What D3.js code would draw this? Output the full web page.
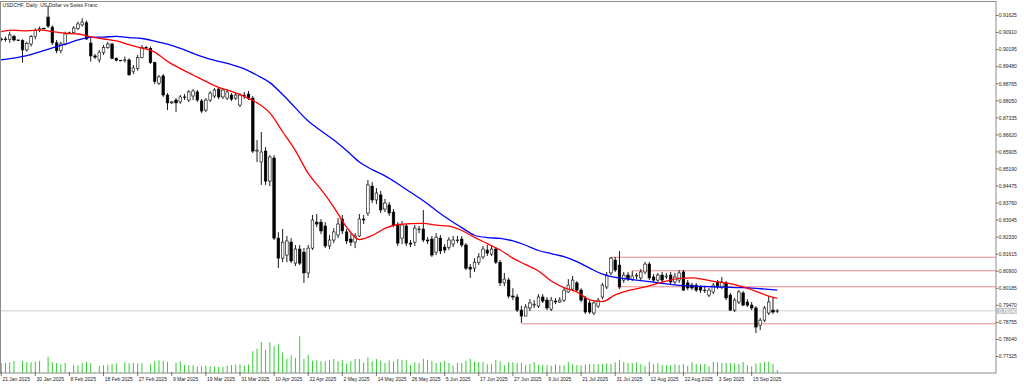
<!DOCTYPE html>
<html><head><meta charset="utf-8">
<script src="https://cdn.jsdelivr.net/npm/d3@7"></script>
<style>html,body{margin:0;padding:0;background:#fff;overflow:hidden}</style>
</head><body><svg id="c" width="1024" height="385"></svg>
<script>
const title = "USDCHF, Daily:  US Dollar vs Swiss Franc";
const dateLabels = ["21 Jan 2025","30 Jan 2025","8 Feb 2025","18 Feb 2025","27 Feb 2025","9 Mar 2025","19 Mar 2025","31 Mar 2025","10 Apr 2025","22 Apr 2025","2 May 2025","14 May 2025","26 May 2025","5 Jun 2025","17 Jun 2025","27 Jun 2025","9 Jul 2025","21 Jul 2025","31 Jul 2025","12 Aug 2025","22 Aug 2025","3 Sep 2025","15 Sep 2025"];
const dateLabelBar = [0,8,16,24,32,40,48,56,64,72,80,88,96,104,112,120,128,136,144,152,160,168,176];
const priceTicks = [0.91625,0.90910,0.90195,0.89480,0.88765,0.88050,0.87335,0.86620,0.85905,0.85190,0.84475,0.83760,0.83045,0.82330,0.81615,0.80900,0.80185,0.79470,0.78755,0.78040,0.77325];

const open = [0.9064,0.9061,0.9063,0.9074,0.9060,0.9057,0.9018,0.9043,0.9074,0.9099,
0.9107,0.9156,0.9114,0.9048,0.9015,0.9043,0.9088,0.9090,0.9109,0.9123,
0.9132,0.9047,0.8993,0.8976,0.9007,0.9029,0.9043,0.8983,0.8975,0.8973,
0.8976,0.8927,0.8941,0.8987,0.9028,0.9025,0.8965,0.8879,0.8909,0.8829,
0.8796,0.8808,0.8800,0.8821,0.8808,0.8825,0.8842,0.8804,0.8766,0.8808,
0.8825,0.8854,0.8821,0.8816,0.8829,0.8816,0.8787,0.8829,0.8833,0.8816,
0.8594,0.8548,0.8594,0.8468,0.8565,0.8229,0.8145,0.8158,0.8212,0.8124,
0.8183,0.8170,0.8083,0.8187,0.8296,0.8296,0.8280,0.8196,0.8221,0.8242,
0.8309,0.8255,0.8225,0.8212,0.8238,0.8309,0.8334,0.8447,0.8389,0.8410,
0.8351,0.8368,0.8338,0.8284,0.8229,0.8280,0.8208,0.8212,0.8267,0.8267,
0.8221,0.8225,0.8170,0.8229,0.8191,0.8191,0.8204,0.8221,0.8225,0.8200,
0.8107,0.8103,0.8128,0.8150,0.8179,0.8162,0.8183,0.8128,0.8041,0.8053,
0.7986,0.7982,0.7927,0.7902,0.7936,0.7948,0.7944,0.7982,0.7969,0.7931,
0.7965,0.7961,0.7969,0.8003,0.8015,0.8041,0.8011,0.7978,0.7957,0.7915,
0.7944,0.7982,0.8024,0.8083,0.8137,0.8116,0.8053,0.8074,0.8057,0.8070,
0.8062,0.8087,0.8120,0.8066,0.8053,0.8074,0.8066,0.8074,0.8045,0.8053,
0.8087,0.8041,0.8032,0.8032,0.8024,0.8011,0.7990,0.8003,0.8045,0.8024,
0.8041,0.7990,0.7927,0.7961,0.7999,0.7961,0.7948,0.7936,0.7864,0.7885,
0.7915,0.7927,0.7923];
const high = [0.9071,0.9074,0.9095,0.9081,0.9061,0.9063,0.9053,0.9081,0.9109,0.9116,
0.9111,0.9204,0.9121,0.9060,0.9053,0.9095,0.9095,0.9118,0.9137,0.9151,
0.9141,0.9067,0.9001,0.9018,0.9039,0.9051,0.9048,0.8987,0.8976,0.8990,
0.8983,0.8955,0.8997,0.9039,0.9035,0.9032,0.8969,0.8913,0.8917,0.8837,
0.8804,0.8816,0.8829,0.8833,0.8850,0.8854,0.8850,0.8812,0.8816,0.8846,
0.8858,0.8863,0.8858,0.8854,0.8837,0.8837,0.8837,0.8842,0.8846,0.8825,
0.8640,0.8674,0.8611,0.8577,0.8577,0.8254,0.8267,0.8238,0.8229,0.8200,
0.8200,0.8187,0.8200,0.8326,0.8330,0.8309,0.8296,0.8242,0.8271,0.8313,
0.8326,0.8267,0.8246,0.8250,0.8330,0.8326,0.8473,0.8464,0.8439,0.8427,
0.8393,0.8380,0.8351,0.8296,0.8301,0.8288,0.8221,0.8284,0.8280,0.8347,
0.8233,0.8238,0.8250,0.8242,0.8204,0.8233,0.8238,0.8238,0.8238,0.8208,
0.8120,0.8145,0.8166,0.8196,0.8200,0.8196,0.8191,0.8137,0.8083,0.8062,
0.8019,0.7994,0.7944,0.7952,0.7973,0.7969,0.7994,0.7994,0.7982,0.7982,
0.7977,0.7982,0.8024,0.8057,0.8070,0.8049,0.8019,0.7986,0.7969,0.7969,
0.7978,0.8041,0.8087,0.8150,0.8150,0.8175,0.8087,0.8087,0.8091,0.8083,
0.8099,0.8129,0.8129,0.8078,0.8083,0.8087,0.8083,0.8087,0.8083,0.8095,
0.8095,0.8053,0.8041,0.8041,0.8032,0.8024,0.8020,0.8041,0.8053,0.8066,
0.8049,0.7999,0.7978,0.8011,0.8007,0.7973,0.7961,0.7944,0.7894,0.7944,
0.7986,0.7978,0.7931];
const low = [0.9054,0.9053,0.9048,0.9053,0.9056,0.8965,0.9011,0.9032,0.9063,0.9093,
0.9104,0.9110,0.9039,0.9004,0.9004,0.9037,0.9085,0.9088,0.9102,0.9116,
0.9060,0.8969,0.8980,0.8965,0.8997,0.9023,0.8979,0.8970,0.8970,0.8965,
0.8909,0.8917,0.8931,0.8983,0.9022,0.8959,0.8875,0.8871,0.8821,0.8766,
0.8792,0.8758,0.8792,0.8808,0.8800,0.8808,0.8800,0.8754,0.8758,0.8800,
0.8816,0.8812,0.8812,0.8808,0.8804,0.8808,0.8779,0.8812,0.8808,0.8586,
0.8548,0.8452,0.8452,0.8447,0.8221,0.8103,0.8128,0.8128,0.8124,0.8112,
0.8116,0.8041,0.8062,0.8179,0.8275,0.8246,0.8187,0.8183,0.8208,0.8229,
0.8246,0.8204,0.8196,0.8187,0.8234,0.8288,0.8322,0.8376,0.8372,0.8334,
0.8338,0.8322,0.8275,0.8196,0.8204,0.8196,0.8191,0.8196,0.8250,0.8212,
0.8204,0.8150,0.8158,0.8162,0.8166,0.8179,0.8191,0.8208,0.8191,0.8095,
0.8062,0.8087,0.8116,0.8141,0.8154,0.8154,0.8120,0.8028,0.8028,0.7977,
0.7969,0.7919,0.7873,0.7923,0.7923,0.7936,0.7936,0.7957,0.7927,0.7923,
0.7952,0.7957,0.7961,0.7999,0.8007,0.8003,0.7961,0.7911,0.7911,0.7906,
0.7936,0.7973,0.8015,0.8074,0.8087,0.8015,0.8041,0.8049,0.8049,0.8057,
0.8053,0.8078,0.8053,0.8045,0.8045,0.8045,0.8057,0.8036,0.8036,0.8041,
0.8007,0.8011,0.8011,0.8003,0.7999,0.7999,0.7982,0.7994,0.8015,0.8015,
0.7969,0.7923,0.7919,0.7952,0.7944,0.7940,0.7927,0.7831,0.7843,0.7877,
0.7906,0.7911,0.7915];
const close = [0.9061,0.9064,0.9081,0.9060,0.9057,0.9018,0.9046,0.9074,0.9099,0.9107,
0.9109,0.9118,0.9048,0.9015,0.9043,0.9085,0.9090,0.9110,0.9127,0.9135,
0.9064,0.8993,0.8988,0.9009,0.9029,0.9043,0.8983,0.8975,0.8973,0.8976,
0.8914,0.8943,0.8987,0.9028,0.9029,0.8965,0.8885,0.8905,0.8829,0.8796,
0.8800,0.8796,0.8821,0.8819,0.8842,0.8846,0.8808,0.8762,0.8808,0.8837,
0.8850,0.8821,0.8850,0.8842,0.8812,0.8829,0.8829,0.8827,0.8816,0.8594,
0.8598,0.8590,0.8468,0.8569,0.8229,0.8145,0.8212,0.8217,0.8133,0.8183,
0.8124,0.8083,0.8187,0.8305,0.8288,0.8259,0.8196,0.8221,0.8255,0.8288,
0.8259,0.8217,0.8212,0.8238,0.8309,0.8305,0.8452,0.8389,0.8418,0.8347,
0.8376,0.8334,0.8284,0.8208,0.8284,0.8208,0.8204,0.8271,0.8265,0.8221,
0.8217,0.8158,0.8233,0.8175,0.8179,0.8221,0.8221,0.8219,0.8200,0.8103,
0.8099,0.8128,0.8150,0.8183,0.8166,0.8183,0.8128,0.8041,0.8057,0.7986,
0.7982,0.7927,0.7902,0.7940,0.7957,0.7952,0.7982,0.7965,0.7936,0.7969,
0.7961,0.7969,0.8011,0.8032,0.8053,0.8011,0.7969,0.7919,0.7919,0.7957,
0.7969,0.8032,0.8074,0.8145,0.8095,0.8024,0.8074,0.8057,0.8070,0.8074,
0.8087,0.8120,0.8062,0.8053,0.8074,0.8053,0.8070,0.8045,0.8066,0.8083,
0.8011,0.8020,0.8020,0.8011,0.8011,0.8009,0.8011,0.8032,0.8024,0.8045,
0.7978,0.7927,0.7969,0.8003,0.7948,0.7948,0.7936,0.7856,0.7885,0.7936,
0.7961,0.7919,0.7924];
const volume = [40,40,43,48,2,48,43,43,45,49,
2,65,43,40,35,41,2,31,31,41,
45,39,2,29,31,33,36,39,2,43,
39,40,39,39,2,35,48,51,49,44,
2,41,47,32,31,31,26,27,29,27,
27,25,25,30,32,34,34,30,34,87,
97,124,93,123,107,117,83,57,71,61,
147,56,73,49,51,47,47,51,56,47,
53,37,47,56,56,41,63,47,56,49,
40,51,47,56,53,51,32,43,40,57,
53,49,40,43,49,40,29,40,40,49,
57,45,44,44,35,36,53,47,31,43,
43,40,41,32,36,44,33,33,31,29,
35,31,31,44,35,32,31,33,36,36,
35,36,39,36,43,53,44,40,39,43,
35,29,45,35,39,32,32,32,35,32,
36,29,43,35,35,36,27,45,43,40,
40,39,39,36,44,31,27,39,41,45,
45,36,12];

const maBar = d3.range(0, 181, 3).concat([182]);
const maFast = [0.9095,0.9101,0.9098,0.9102,0.9095,0.9088,0.9085,0.9073,0.9064,0.9056,
0.9040,0.9026,0.9009,0.8970,0.8940,0.8913,0.8886,0.8861,0.8844,0.8823,
0.8796,0.8754,0.8675,0.8596,0.8500,0.8433,0.8359,0.8275,0.8223,0.8240,
0.8270,0.8286,0.8290,0.8291,0.8283,0.8279,0.8261,0.8232,0.8206,0.8179,
0.8145,0.8118,0.8091,0.8049,0.8021,0.8003,0.7970,0.7963,0.7991,0.8009,
0.8020,0.8034,0.8049,0.8060,0.8062,0.8055,0.8045,0.8038,0.8024,0.8006,
0.7986,0.7976];
const maSlow = [0.8977,0.8984,0.8994,0.9010,0.9027,0.9042,0.9060,0.9071,0.9072,0.9075,
0.9070,0.9066,0.9055,0.9042,0.9025,0.9004,0.8985,0.8970,0.8957,0.8939,
0.8912,0.8881,0.8831,0.8775,0.8720,0.8679,0.8640,0.8596,0.8548,0.8516,
0.8490,0.8457,0.8421,0.8386,0.8345,0.8307,0.8273,0.8241,0.8231,0.8228,
0.8217,0.8199,0.8177,0.8164,0.8151,0.8130,0.8103,0.8078,0.8064,0.8057,
0.8051,0.8044,0.8037,0.8031,0.8028,0.8026,0.8024,0.8022,0.8021,0.8018,
0.8014,0.8011];

const levelPrice = [0.81484, 0.80922, 0.80251, 0.78699];
const levelFromBar = [143, 148, 145, 122];

// ---- drawing ----
const svg = d3.select("#c");
const FONT = "Liberation Sans, Arial, sans-serif";
const L = 0.5, R = 996, T = 1.5, B = 373;
const n = close.length;
const x = d3.scaleLinear().domain([0, n - 1]).range([1.2, 777.25]);
const y = d3.scaleLinear().domain([0.77325, 0.91625]).range([356.5, 15.5]);
const yv = d3.scaleLinear().domain([0, 160]).range([B, B - 40]);

svg.append("rect").attr("width", 1024).attr("height", 385).attr("fill", "#fff");

// current price line
const last = close[n - 1];
svg.append("line").attr("x1", L).attr("x2", R).attr("y1", y(last)).attr("y2", y(last))
  .attr("stroke", "#cfcfcf").attr("stroke-width", 1);

// horizontal levels
svg.append("g").selectAll("line").data(levelPrice).join("line")
  .attr("x1", (d, i) => x(levelFromBar[i])).attr("x2", R)
  .attr("y1", d => y(d)).attr("y2", d => y(d))
  .attr("stroke", "#f08a8a").attr("stroke-width", 1.1);

// volumes
svg.append("g").selectAll("line").data(volume).join("line")
  .attr("x1", (d, i) => x(i)).attr("x2", (d, i) => x(i))
  .attr("y1", yv(0)).attr("y2", d => yv(d))
  .attr("stroke", "#32cd32").attr("stroke-width", 1);

// candles
const idx = d3.range(n);
const cg = svg.append("g");
cg.selectAll("line.w").data(idx).join("line").attr("class", "w")
  .attr("x1", i => x(i)).attr("x2", i => x(i))
  .attr("y1", i => y(high[i])).attr("y2", i => y(low[i]))
  .attr("stroke", "#000").attr("stroke-width", 0.9);
cg.selectAll("rect").data(idx).join("rect")
  .attr("x", i => x(i) - 1.3).attr("width", 2.6)
  .attr("y", i => y(Math.max(open[i], close[i])))
  .attr("height", i => Math.max(0.5, Math.abs(y(open[i]) - y(close[i]))))
  .attr("fill", i => close[i] >= open[i] ? "#fff" : "#000")
  .attr("stroke", "#000").attr("stroke-width", 0.6);

// moving averages
const line = d3.line().x(d => x(d[0])).y(d => y(d[1])).curve(d3.curveMonotoneX);
svg.append("path").attr("d", line(maBar.map((b, i) => [b, maSlow[i]])))
  .attr("fill", "none").attr("stroke", "#0000ff").attr("stroke-width", 1.3);
svg.append("path").attr("d", line(maBar.map((b, i) => [b, maFast[i]])))
  .attr("fill", "none").attr("stroke", "#ff0000").attr("stroke-width", 1.3);

// frame
svg.append("rect").attr("x", L).attr("y", T).attr("width", R - L).attr("height", B - T)
  .attr("fill", "none").attr("stroke", "#8c8c8c").attr("stroke-width", 1);

// price axis
const pa = svg.append("g");
pa.selectAll("line").data(priceTicks).join("line")
  .attr("x1", R).attr("x2", R + 2.5).attr("y1", d => y(d)).attr("y2", d => y(d))
  .attr("stroke", "#555").attr("stroke-width", 0.8);
pa.selectAll("text").data(priceTicks).join("text")
  .attr("x", R + 2.8).attr("y", d => y(d) + 1.8)
  .attr("font-family", FONT).attr("font-size", 5).attr("fill", "#222")
  .text(d => d.toFixed(5));

// current price label
const lg = svg.append("g");
lg.append("rect").attr("x", R + 0.5).attr("y", y(last) - 3).attr("width", 20.5).attr("height", 6)
  .attr("fill", "#c4c4c4");
lg.append("text").attr("x", R + 2.8).attr("y", y(last) + 1.8)
  .attr("font-family", FONT).attr("font-size", 5).attr("fill", "#fff")
  .text(last.toFixed(5));

// date axis
const da = svg.append("g");
da.selectAll("line").data(dateLabelBar).join("line")
  .attr("x1", d => x(d)).attr("x2", d => x(d)).attr("y1", B - 1).attr("y2", B + 3)
  .attr("stroke", "#555").attr("stroke-width", 0.8);
da.selectAll("text").data(dateLabels).join("text")
  .attr("x", (d, i) => x(dateLabelBar[i]) + 1.2).attr("y", 380.5)
  .attr("font-family", FONT).attr("font-size", 5).attr("fill", "#222")
  .text(d => d);

// title
svg.append("text").attr("x", 2.5).attr("y", 7.3)
  .attr("font-family", FONT).attr("font-size", 5.1).attr("fill", "#222")
  .text(title);
</script>
</body></html>
